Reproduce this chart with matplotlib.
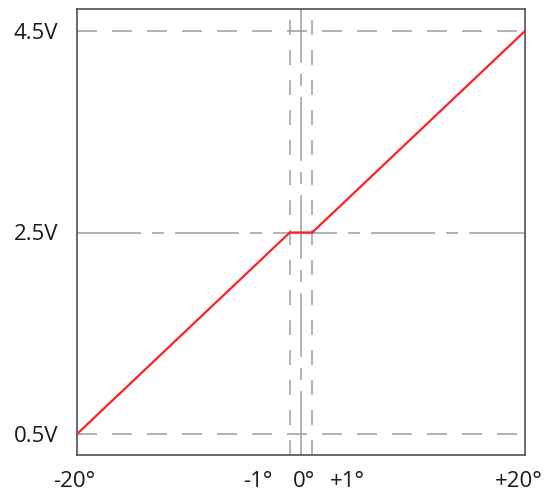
import matplotlib
matplotlib.use("Agg")
import matplotlib.pyplot as plt
from matplotlib.transforms import ScaledTranslation

plt.rcParams['font.family'] = ['Open Sans', 'DejaVu Sans']
plt.rcParams['lines.scale_dashes'] = False

# output curve: flat dead band between -1 and +1 degree
angle = [-20, -1, 1, 20]
volts = [0.5, 2.5, 2.5, 4.5]

x_ticks = [-20, -1, 0, 1, 20]
x_labels = ['-20°', '-1°', '0°', '+1°', '+20°']
# labels near the centre are pushed apart so they don't overlap (pixels)
x_label_shift = [-3, -32, 2.5, 35, -6.5]

y_ticks = [0.5, 2.5, 4.5]
y_labels = ['0.5V', '2.5V', '4.5V']

grid_col = '#9c9c9c'
dash = (0, (14.4, 10.8))
vdash = (0, (10.8, 10.8))
center = (0, (46, 8, 8.6, 8))

fig = plt.figure(figsize=(5.46, 4.95), dpi=100)
ax = fig.add_axes([77/546, 40/495, 448/546, 446/495])

# reference lines
ax.axhline(0.5, color=grid_col, lw=1.1, linestyle=dash, zorder=1)
ax.axhline(4.5, color=grid_col, lw=1.1, linestyle=dash, zorder=1)
ax.axhline(2.5, color=grid_col, lw=1.1, linestyle=center, zorder=1)
ax.axvline(-1, color=grid_col, lw=1.1, linestyle=vdash, zorder=1)
ax.axvline(1, color=grid_col, lw=1.1, linestyle=vdash, zorder=1)
ax.axvline(0, color=grid_col, lw=1.1, linestyle=center, zorder=1)

ax.plot(angle, volts, color='#ff2020', lw=1.6, zorder=3)

ax.set_xlim(-20, 20)
ax.set_ylim(0.5 - 21/100.75, 4.5 + 22/100.75)

ax.set_xticks(x_ticks)
ax.set_xticklabels(x_labels)
ax.set_yticks(y_ticks)
ax.set_yticklabels(y_labels)
ax.tick_params(length=0, labelsize=16, colors='#1a1a1a')
ax.tick_params(axis='x', pad=11.5)
ax.tick_params(axis='y', pad=13.5)

for lab, dx in zip(ax.get_xticklabels(), x_label_shift):
    lab.set_transform(lab.get_transform() + ScaledTranslation(dx/100, 0, fig.dpi_scale_trans))

for s in ax.spines.values():
    s.set_color('#505050')
    s.set_linewidth(1.2)

fig.savefig('out.png', dpi=100)
